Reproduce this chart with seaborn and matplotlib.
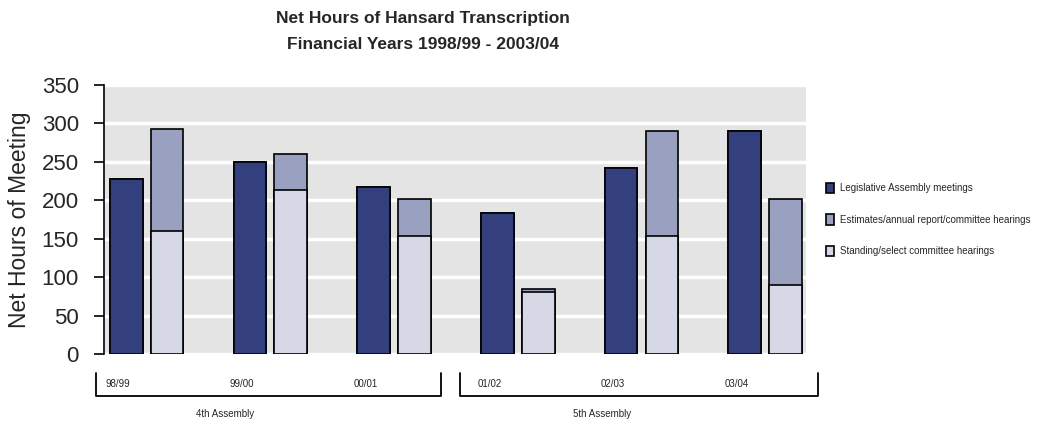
import matplotlib
matplotlib.use("Agg")
import matplotlib.pyplot as plt
import matplotlib.patches as mpatches
import matplotlib.transforms as mtransforms
import numpy as np
import pandas as pd
import seaborn as sns

years = ["98/99", "99/00", "00/01", "01/02", "02/03", "03/04"]
legislative = [228, 250, 217, 184, 242, 290]
standing = [160, 214, 154, 81, 154, 90]
estimates = [133, 46, 48, 4, 136, 112]
assemblies = ["4th Assembly", "5th Assembly"]

series = ["Legislative Assembly meetings",
          "Estimates/annual report/committee hearings",
          "Standing/select committee hearings"]
colors = ["#343f7e", "#9aa1c0", "#d6d9e5"]

total = [s + e for s, e in zip(standing, estimates)]

df_top = pd.DataFrame({
    "year": years * 2,
    "kind": ["leg"] * 6 + ["comm"] * 6,
    "hours": legislative + total,
})
df_bottom = pd.DataFrame({
    "year": years * 2,
    "kind": ["leg"] * 6 + ["comm"] * 6,
    "hours": legislative + standing,
})

sns.set_style("white")
plt.rcParams["font.family"] = ["Liberation Sans", "DejaVu Sans"]

fig = plt.figure(figsize=(10.45, 4.21), dpi=100)
ax = fig.add_axes([0.0995, 0.159, 0.6718, 0.639])

bar_kw = dict(x="year", y="hours", hue="kind", hue_order=["leg", "comm"],
              width=0.66, gap=0.2, edgecolor="black", linewidth=1.2,
              saturation=1, legend=False, ax=ax, errorbar=None)
sns.barplot(data=df_top, palette=[colors[0], colors[1]], **bar_kw)
sns.barplot(data=df_bottom, palette=[colors[0], colors[2]], **bar_kw)

ax.set_facecolor("#e4e4e4")
ax.set_ylim(0, 350)
ax.set_xlim(-0.345, 5.33)
ax.set_yticks(range(0, 351, 50))
ax.yaxis.grid(True, color="white", linewidth=2.5)
ax.set_axisbelow(True)
for s in ["top", "right", "bottom"]:
    ax.spines[s].set_visible(False)
ax.spines["left"].set_color("black")
ax.spines["left"].set_linewidth(1.2)
ax.tick_params(axis="y", left=True, length=7, width=1.2, color="black",
               labelsize=16, pad=11)
ax.set_xticks([])
ax.set_xlabel("")
ax.set_ylabel("Net Hours of Meeting", fontsize=16.5, labelpad=8)

# year labels and assembly brackets below the axis
trans = mtransforms.blended_transform_factory(ax.transData, ax.transAxes)
for i, y in enumerate(years):
    ax.text(i - 0.23, -0.11, y, transform=trans, ha="center", va="center",
            fontsize=7)
for (x0, x1), name, xc in zip([(-0.41, 2.38), (2.535, 5.43)], assemblies,
                              [0.63, 3.68]):
    ax.plot([x0, x0, x1, x1], [-0.07, -0.156, -0.156, -0.07], transform=trans,
            color="black", linewidth=1.3, clip_on=False)
    ax.text(xc, -0.223, name, transform=trans, ha="center",
            va="center", fontsize=7)

fig.text(0.405, 0.925, "Net Hours of Hansard Transcription\nFinancial Years 1998/99 - 2003/04",
         ha="center", va="center", fontsize=12.5, fontweight="bold", linespacing=1.85)

handles = [mpatches.Patch(facecolor=c, edgecolor="black", linewidth=1.2, label=l)
           for c, l in zip(colors, series)]
fig.legend(handles=handles, loc="upper left", bbox_to_anchor=(0.782, 0.587),
           frameon=False, fontsize=7, handlelength=0.8, handleheight=1.3,
           handletextpad=0.6, labelspacing=2.15)

fig.savefig("out.png", dpi=100)
